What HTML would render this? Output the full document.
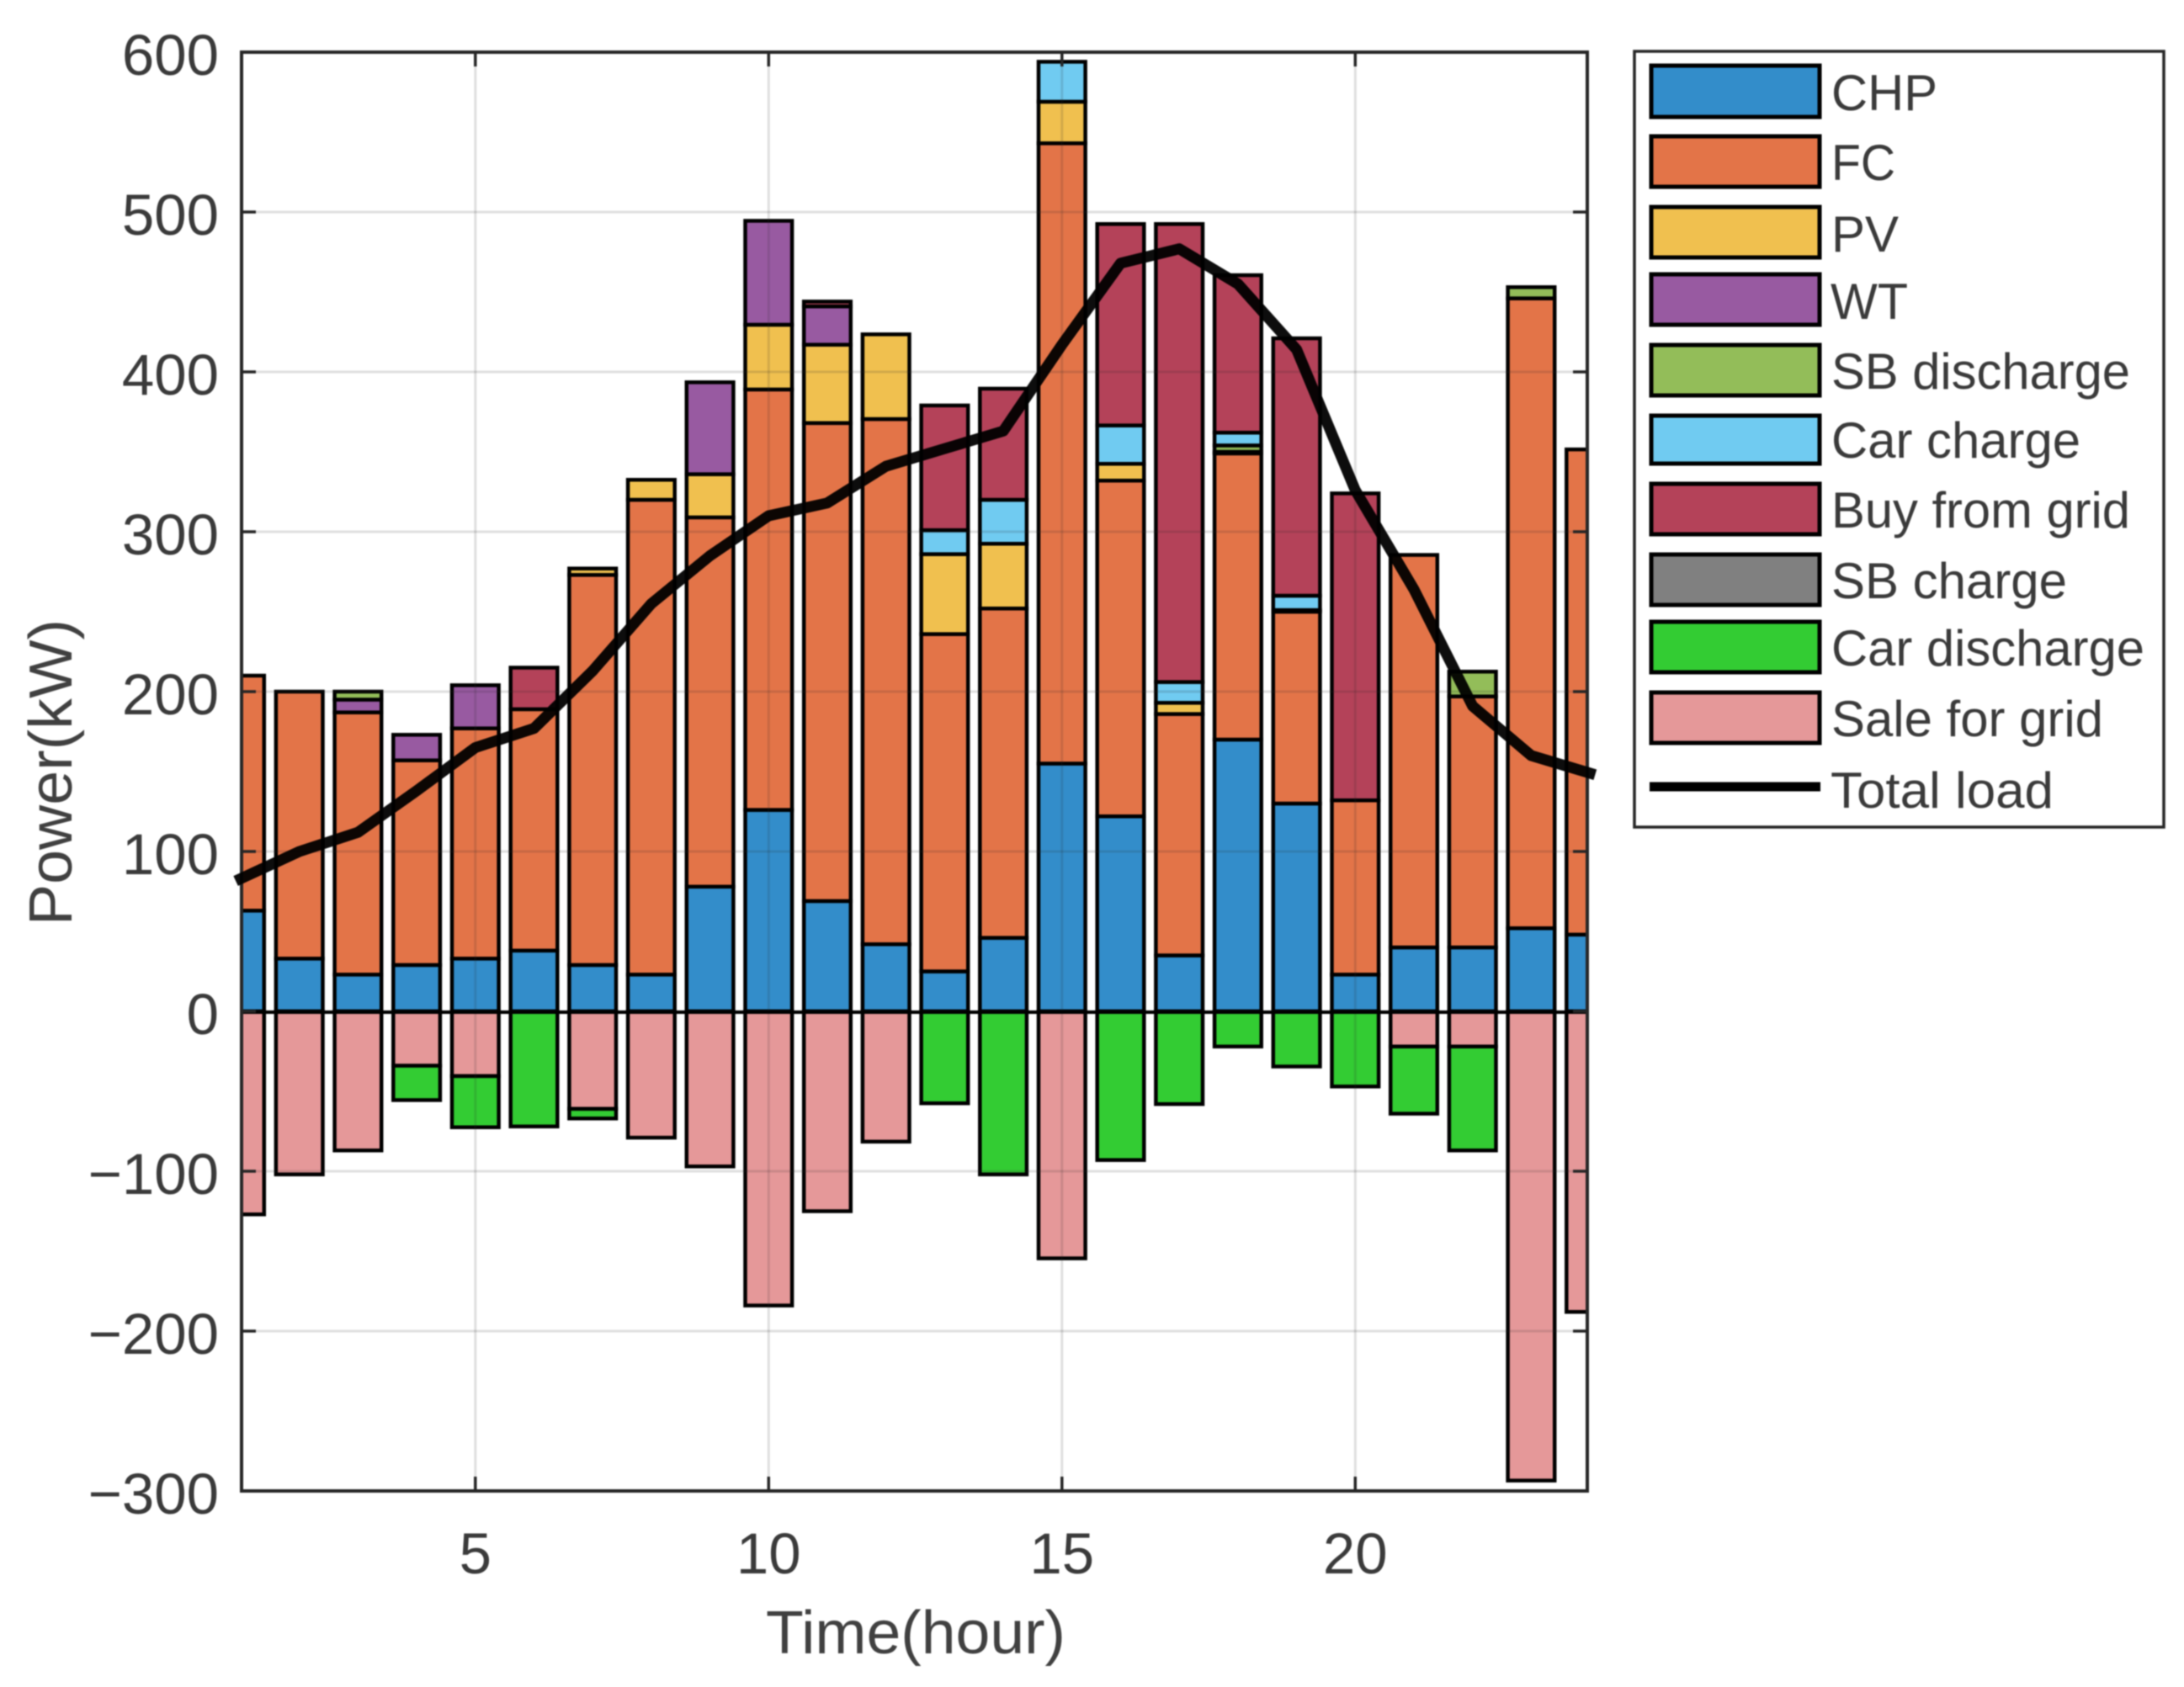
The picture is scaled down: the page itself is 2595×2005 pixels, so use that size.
<!DOCTYPE html>
<html lang="en">
<head>
<meta charset="utf-8">
<title>Hourly power balance</title>
<style>
html,body{margin:0;padding:0;background:#fff;}
svg{display:block;filter:blur(0.8px);}
text{font-family:"Liberation Sans",Arial,sans-serif;fill:#3a3a3a;}
</style>
</head>
<body>
<svg id="chart" xmlns="http://www.w3.org/2000/svg" width="2595" height="2005" viewBox="0 0 2595 2005">
  <defs><clipPath id="plot-clip"><rect x="287" y="62" width="1599" height="1710"/></clipPath></defs>
  <rect x="0" y="0" width="2595" height="2005" fill="#fff"/>
  <g id="bars" clip-path="url(#plot-clip)"></g>
  <g id="grid"></g>
  <line x1="287" x2="1886" y1="1203" y2="1203" stroke="#000" stroke-width="4"/>
  <rect x="287" y="62" width="1599" height="1710" fill="none" stroke="#262626" stroke-width="4"/>
  <g id="ticks"></g>
  <g id="ticklabels" font-size="69"></g>
  <polyline id="load-line" fill="none" stroke="#000" stroke-width="13" stroke-linejoin="round" stroke-linecap="square" opacity="0.95"/>
  <text x="910" y="1965" font-size="72" textLength="356" lengthAdjust="spacingAndGlyphs" style="fill:#404040">Time(hour)</text>
  <text x="0" y="0" font-size="72" textLength="364" lengthAdjust="spacingAndGlyphs" transform="translate(85,1100) rotate(-90)" style="fill:#404040">Power(kW)</text>

  <g>
    <rect x="1942" y="61" width="629" height="922" fill="#fff" stroke="#262626" stroke-width="3.5"/>
    <g stroke="#000" stroke-width="5">
      <rect x="1962" y="78" width="200" height="61" fill="#338dca"/>
      <rect x="1962" y="162" width="200" height="60" fill="#e37448"/>
      <rect x="1962" y="246" width="200" height="60" fill="#f0c04f"/>
      <rect x="1962" y="326" width="200" height="60" fill="#985aa1"/>
      <rect x="1962" y="410" width="200" height="60" fill="#93bd59"/>
      <rect x="1962" y="494" width="200" height="57" fill="#70cbf1"/>
      <rect x="1962" y="575" width="200" height="60" fill="#b44259"/>
      <rect x="1962" y="659" width="200" height="60" fill="#808080"/>
      <rect x="1962" y="739" width="200" height="60" fill="#33cc33"/>
      <rect x="1962" y="823" width="200" height="60" fill="#e59899"/>
    </g>
    <line x1="1960" x2="2163" y1="935" y2="935" stroke="#000" stroke-width="11"/>
    <g font-size="60">
      <text x="2176" y="131" textLength="126" lengthAdjust="spacingAndGlyphs">CHP</text>
      <text x="2176" y="214" textLength="76" lengthAdjust="spacingAndGlyphs">FC</text>
      <text x="2176" y="299" textLength="80" lengthAdjust="spacingAndGlyphs">PV</text>
      <text x="2175" y="379" textLength="92" lengthAdjust="spacingAndGlyphs">WT</text>
      <text x="2176" y="462" textLength="355" lengthAdjust="spacingAndGlyphs">SB discharge</text>
      <text x="2176" y="544" textLength="296" lengthAdjust="spacingAndGlyphs">Car charge</text>
      <text x="2176" y="627" textLength="355" lengthAdjust="spacingAndGlyphs">Buy from grid</text>
      <text x="2176" y="711" textLength="280" lengthAdjust="spacingAndGlyphs">SB charge</text>
      <text x="2176" y="791" textLength="372" lengthAdjust="spacingAndGlyphs">Car discharge</text>
      <text x="2176" y="875" textLength="323" lengthAdjust="spacingAndGlyphs">Sale for grid</text>
      <text x="2175" y="960" textLength="265" lengthAdjust="spacingAndGlyphs">Total load</text>
    </g>
  </g>
</svg>
<script>
const hours = [1,2,3,4,5,6,7,8,9,10,11,12,13,14,15,16,17,18,19,20,21,22,23,24];
const chp = [63,33,23,29,33,38,29,23,78,126,69,42,25,46,155,122,35,170,130,23,40,40,52,48];
const fc = [147,167,164,128,144,151,244,297,231,263,299,328.5,211,206,388,210,151,179,120,109,245.5,157,394,303.5];
const pv = [0,0,0,0,0,0,4,12.5,27,40.5,49,53,50,40.5,26,10.5,7,1,1,0,0,0,0,0];
const wt = [0,0,8,16,27,0,0,0,57.5,65,24,0,0,0,0,0,0,0,0,0,0,0,0,0];
const sbDischarge = [0,0,5,0,0,0,0,0,0,0,0,0,0,0,0,0,0,4,0,0,0,15.5,7,0];
const carCharge = [0,0,0,0,0,0,0,0,0,0,0,0,15,27.5,25,24,13,8,9,0,0,0,0,0];
const buyFromGrid = [0,0,0,0,0,26,0,0,0,0,3,0,78,69.5,0,126,286.5,98.5,161,192,0,0,0,0];
const saleForGrid = [-127,-102,-87,-34,-40.5,0,-61,-79,-97,-184,-125,-81.5,0,0,-154.5,0,0,0,0,0,-22,-22,-293.5,-188];
const carDischarge = [0,0,0,-21.5,-32,-72,-6,0,0,0,0,0,-57.5,-102,0,-93,-58,-22,-34.5,-47,-42,-65,0,0];
const totalLoad = [83,100,112,138,165,177,213,255,285,310,318,341,352,363,417,468,477,455,414,326,264,191,160,149];
const xTickValues = [5,10,15,20];
const yTickValues = [600,500,400,300,200,100,0,-100,-200,-300];

const NS = 'http://www.w3.org/2000/svg';
const plotLeft = 287, plotRight = 1886, plotTop = 62, plotBottom = 1772;
const x = h => plotLeft - 1 + (h - 1) * 69.7;
const y = v => plotBottom - (v + 300) * (plotBottom - plotTop) / 900;
const barWidth = 0.8 * (plotRight - plotLeft) / 23;

const positiveStack = [
  {name:'chp', values:chp, color:'#338dca'},
  {name:'fc', values:fc, color:'#e37448'},
  {name:'pv', values:pv, color:'#f0c04f'},
  {name:'wt', values:wt, color:'#985aa1'},
  {name:'sb-discharge', values:sbDischarge, color:'#93bd59'},
  {name:'car-charge', values:carCharge, color:'#70cbf1'},
  {name:'buy-from-grid', values:buyFromGrid, color:'#b44259'}
];
const negativeStack = [
  {name:'sale-for-grid', values:saleForGrid, color:'#e59899'},
  {name:'car-discharge', values:carDischarge, color:'#33cc33'}
];

const barsGroup = document.getElementById('bars');
function drawStack(stack) {
  hours.forEach((h, i) => {
    let base = 0;
    stack.forEach(series => {
      const v = series.values[i];
      if (v === 0) return;
      const next = base + v;
      const r = document.createElementNS(NS, 'rect');
      
      
      r.setAttribute('x', x(h) - barWidth / 2);
      r.setAttribute('width', barWidth);
      r.setAttribute('y', Math.min(y(base), y(next)));
      r.setAttribute('height', Math.abs(y(next) - y(base)));
      r.setAttribute('fill', series.color);
      r.setAttribute('stroke', '#000');
      r.setAttribute('stroke-width', '4.5');
      barsGroup.appendChild(r);
      base = next;
    });
  });
}
drawStack(positiveStack);
drawStack(negativeStack);

const gridGroup = document.getElementById('grid');
const ticksGroup = document.getElementById('ticks');
const labelsGroup = document.getElementById('ticklabels');
function addLine(parent, x1, y1, x2, y2, stroke, width) {
  const l = document.createElementNS(NS, 'line');
  l.setAttribute('x1', x1);
  l.setAttribute('y1', y1);
  l.setAttribute('x2', x2);
  l.setAttribute('y2', y2);
  l.setAttribute('stroke', stroke);
  l.setAttribute('stroke-width', width);
  parent.appendChild(l);
  return l;
}
const gridColor = 'rgba(38,38,38,0.15)';
const tickLength = 17;
xTickValues.forEach(v => {
  const g = addLine(gridGroup, x(v), plotTop, x(v), plotBottom, gridColor, 3);
  
  
  const t1 = addLine(ticksGroup, x(v), plotBottom, x(v), plotBottom - tickLength, '#262626', 3.5);
  
  
  const t2 = addLine(ticksGroup, x(v), plotTop, x(v), plotTop + tickLength, '#262626', 3.5);
  
  
  const label = document.createElementNS(NS, 'text');
  
  
  label.setAttribute('x', x(v));
  label.setAttribute('y', 1870);
  label.setAttribute('text-anchor', 'middle');
  label.textContent = String(v);
  labelsGroup.appendChild(label);
});
yTickValues.forEach(v => {
  if (v !== 600 && v !== -300) {
    const g = addLine(gridGroup, plotLeft, y(v), plotRight, y(v), gridColor, 3);
    
    
    const t1 = addLine(ticksGroup, plotLeft, y(v), plotLeft + tickLength, y(v), '#262626', 3.5);
    
    
    const t2 = addLine(ticksGroup, plotRight, y(v), plotRight - tickLength, y(v), '#262626', 3.5);
    
    
  }
  const label = document.createElementNS(NS, 'text');
  
  
  label.setAttribute('x', 260);
  label.setAttribute('y', y(v) + 27);
  label.setAttribute('text-anchor', 'end');
  label.textContent = v < 0 ? '\u2212' + Math.abs(v) : String(v);
  labelsGroup.appendChild(label);
});

document.getElementById('load-line').setAttribute('points',
  hours.map((h, i) => x(h) + ',' + y(totalLoad[i])).join(' '));
</script>
</body>
</html>
